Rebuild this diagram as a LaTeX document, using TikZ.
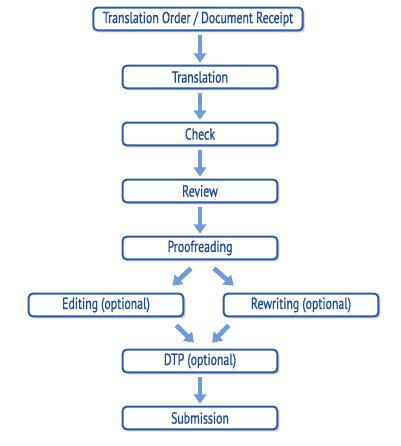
\documentclass[tikz,border=0pt]{standalone}
\usepackage{fontspec}
\setmainfont{PT Sans}[FakeStretch=0.74,FakeBold=0.9]
\usetikzlibrary{arrows.meta,shadows,calc}
\definecolor{boxblue}{HTML}{2A5AA8}
\definecolor{txtblue}{HTML}{1F4C9C}
\definecolor{arrblue}{HTML}{6F9BD8}
\tikzset{
  stepbox/.style={draw=boxblue, line width=1.5pt, rounded corners=3pt, fill=white,
    minimum width=116pt, minimum height=17pt, inner sep=0pt,
    text=txtblue, font=\fontsize{12}{13}\selectfont,
    drop shadow={shadow xshift=1.5pt, shadow yshift=-1.5pt, fill=black!35, opacity=0.6}},
  widebox/.style={stepbox, minimum width=157pt},
  arr/.style={draw=arrblue, line width=3.5pt,
    -{Triangle[width=9.5pt,length=7pt]}, shorten <=3pt, shorten >=1.5pt}
}
\begin{document}
\begin{tikzpicture}[x=0.75pt,y=-0.75pt]
\useasboundingbox (0,0) rectangle (400,446);
\node[widebox] (order) at (198,19) {Translation Order / Document Receipt};
\node[stepbox] (trans) at (200,77) {Translation};
\node[stepbox] (check) at (200,134) {Check};
\node[stepbox] (review) at (200,191) {Review};
\node[stepbox] (proof) at (200,248) {Proofreading};
\node[stepbox] (edit) at (106,305) {Editing (optional)};
\node[stepbox] (rewr) at (301,305) {Rewriting (optional)};
\node[stepbox] (dtp) at (200,361) {DTP (optional)};
\node[stepbox] (sub) at (200,418) {Submission};
\draw[arr] (order.south -| trans.north) -- (trans.north);
\draw[arr] (trans) -- (check);
\draw[arr] (check) -- (review);
\draw[arr] (review) -- (proof);
\draw[arr, shorten <=0pt, shorten >=0pt] ($(proof.south)+(-9,8)$) -- ($(edit.north east)+(-12,-7)$);
\draw[arr, shorten <=0pt, shorten >=0pt] ($(proof.south)+(14,8)$) -- ($(rewr.north west)+(11,-7)$);
\draw[arr, shorten <=0pt, shorten >=0pt] ($(edit.south east)+(-8,8)$) -- ($(dtp.north)+(-6,-6)$);
\draw[arr, shorten <=0pt, shorten >=0pt] ($(rewr.south west)+(6,8)$) -- ($(dtp.north)+(12,-6)$);
\draw[arr] (dtp) -- (sub);
\end{tikzpicture}
\end{document}
